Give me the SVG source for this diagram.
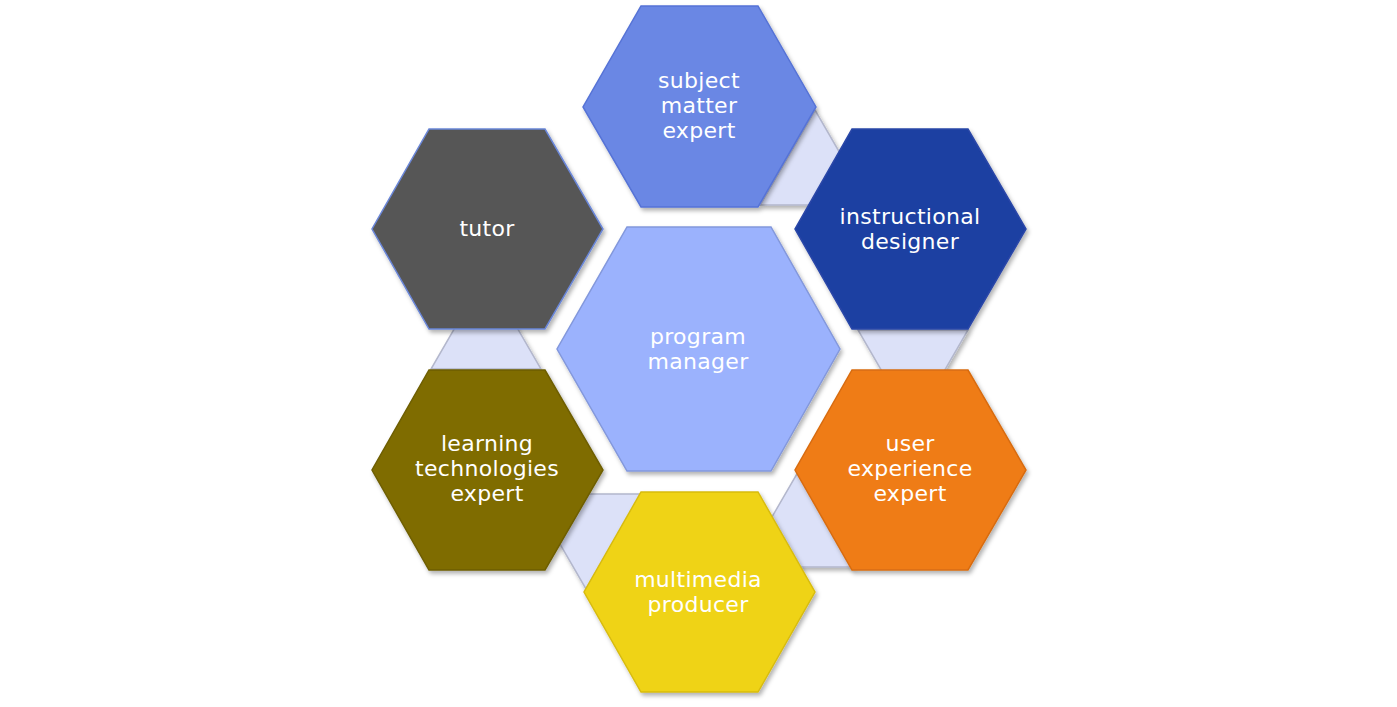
<svg xmlns="http://www.w3.org/2000/svg" width="1397" height="707" viewBox="0 0 1397 707">
<defs>
<filter id="sh" x="-20%" y="-20%" width="140%" height="140%">
<feDropShadow dx="2" dy="3" stdDeviation="2" flood-color="#000" flood-opacity="0.3"/>
</filter>
<style>
.tri{fill:#dce1f8;stroke:#b3b7cc;stroke-width:1.5;filter:url(#sh)}
.hex{stroke-width:1.5;filter:url(#sh)}
.lbl{font-family:"DejaVu Sans","Verdana",sans-serif;font-size:22px;letter-spacing:0.3px;fill:#ffffff;text-anchor:middle}
</style>
</defs>
<rect width="1397" height="707" fill="#ffffff"/>
<g id="connectors">
<polygon class="tri" points="815,110 870,205 760,205"/>
<polygon class="tri" points="858,330 968,330 913,425"/>
<polygon class="tri" points="798,472 853,567 743,567"/>
<polygon class="tri" points="531,494 641,494 586,589"/>
<polygon class="tri" points="486,274 541,369 431,369"/>
</g>
<g id="subject-matter-expert">
<polygon class="hex" fill="#6a87e4" stroke="#5673d6" points="641,6 758,6 816,107 758,207 641,207 583,107"/>
<text class="lbl" x="699" y="88">subject</text>
<text class="lbl" x="699" y="113">matter</text>
<text class="lbl" x="699" y="138">expert</text>
</g>
<g id="instructional-designer">
<polygon class="hex" fill="#1f3fa2" stroke="#2a47a8" points="852,129 968,129 1026,229 968,329 852,329 795,229"/>
<text class="lbl" x="910" y="224">instructional</text>
<text class="lbl" x="910" y="249">designer</text>
</g>
<g id="tutor">
<polygon class="hex" fill="#575757" stroke="#6a86d8" points="429,129 545,129 603,229 545,329 429,329 372,229"/>
<text class="lbl" x="487" y="236">tutor</text>
</g>
<g id="program-manager">
<polygon class="hex" fill="#9bb2fd" stroke="#8398dc" points="627,227 771,227 840,349 771,471 627,471 557,349"/>
<text class="lbl" x="698" y="344">program</text>
<text class="lbl" x="698" y="369">manager</text>
</g>
<g id="learning-technologies-expert">
<polygon class="hex" fill="#7f6c00" stroke="#6e5e00" points="429,370 545,370 603,470 545,570 429,570 372,470"/>
<text class="lbl" x="487" y="451">learning</text>
<text class="lbl" x="487" y="476">technologies</text>
<text class="lbl" x="487" y="501">expert</text>
</g>
<g id="user-experience-expert">
<polygon class="hex" fill="#ef7b19" stroke="#d86c10" points="852,370 968,370 1026,470 968,570 852,570 795,470"/>
<text class="lbl" x="910" y="451">user</text>
<text class="lbl" x="910" y="476">experience</text>
<text class="lbl" x="910" y="501">expert</text>
</g>
<g id="multimedia-producer">
<polygon class="hex" fill="#efd317" stroke="#d8bc10" points="641,492 758,492 815,592 758,692 641,692 584,592"/>
<text class="lbl" x="698" y="587">multimedia</text>
<text class="lbl" x="698" y="612">producer</text>
</g>
</svg>
